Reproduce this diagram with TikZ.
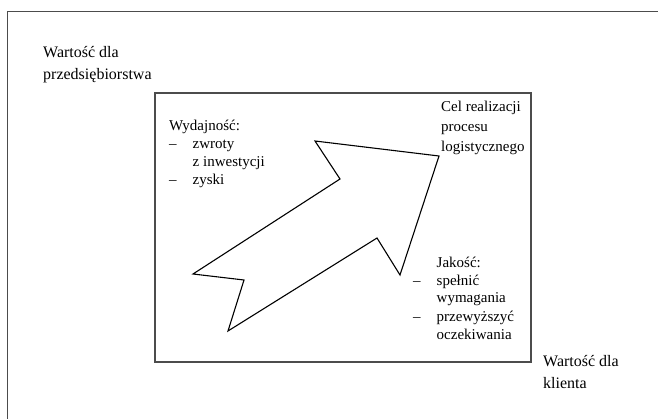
\documentclass[tikz,border=0pt]{standalone}
\usepackage{fontspec}
\setmainfont{Liberation Serif}
\usepackage{tikz}

\newcommand{\punkt}{\makebox[23.5pt][l]{--}}
\newcommand{\wciecie}{\makebox[23.5pt][l]{}}

\begin{document}
\begin{tikzpicture}[x=1pt, y=-1pt,
                    os/.style={anchor=base west, align=left, inner sep=0pt,
                               text=black, font=\fontsize{16}{22}\selectfont},
                    opis/.style={anchor=base west, align=left, inner sep=0pt,
                                 text=black, font=\fontsize{15}{18}\selectfont}]
    \useasboundingbox (0,0) rectangle (658,419);
    % ramka i pole
    \draw[gray!60!black, line width=0.8pt] (658,11) -- (7,11) -- (7,419);
    \draw[black!70, line width=1.3pt] (155,93) rectangle (531,362);
    % strzalka
    \draw[line width=1.1pt] (193,274) -- (340,179) -- (315,141) -- (439,156)
        -- (400,275) -- (377,238) -- (228,331) -- (244,280) -- cycle;
    % osie (kotwica na linii bazowej ostatniego wiersza)
    \node[os] (przeds) at (43,80) {Wartość dla\\przedsiębiorstwa};
    \node[os] (klient) at (543,388) {Wartość dla\\klienta};
    % opisy
    \node[opis] (wydaj) at (169,185) {Wydajność:\\
                                      \punkt zwroty\\
                                      \wciecie z inwestycji\\
                                      \punkt zyski};
    \node[opis, font=\fontsize{15}{20}\selectfont] (cel) at (441,152)
        {Cel realizacji\\procesu\\logistycznego};
    \node[opis] (jakosc) at (413,339) {\wciecie Jakość:\\
                                       \punkt spełnić\\
                                       \wciecie wymagania\\
                                       \punkt przewyższyć\\
                                       \wciecie oczekiwania};
\end{tikzpicture}
\end{document}
